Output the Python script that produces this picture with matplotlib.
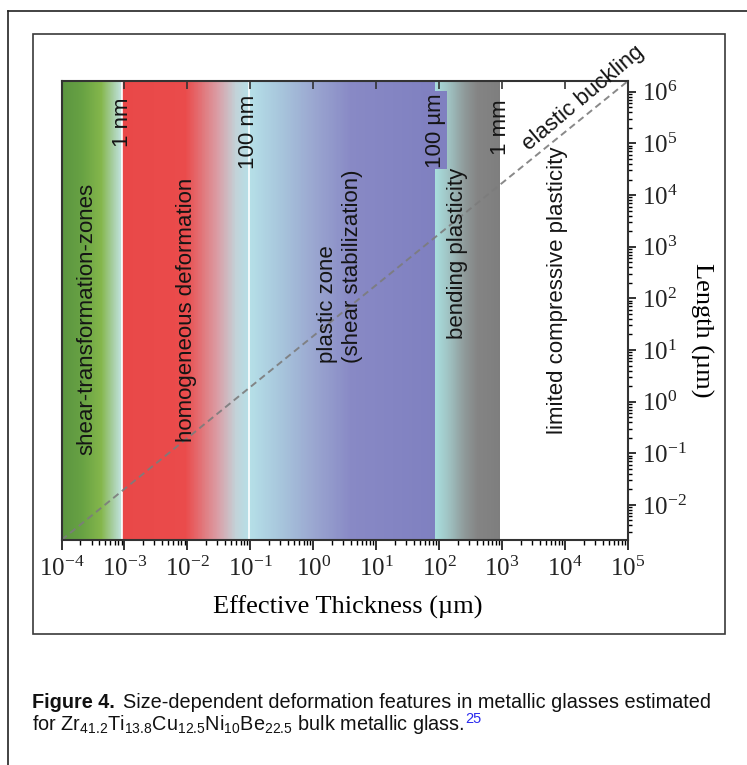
import numpy as np
import matplotlib
matplotlib.use('Agg')
import matplotlib.pyplot as plt
from matplotlib.colors import to_rgb
from matplotlib.lines import Line2D
from matplotlib.patches import Rectangle
from matplotlib.ticker import LogLocator, NullFormatter, NullLocator
import matplotlib.transforms as mtransforms

plt.rcParams['font.family'] = ['Liberation Serif', 'DejaVu Serif']
plt.rcParams['mathtext.fontset'] = 'custom'
plt.rcParams['mathtext.rm'] = 'Liberation Sans'
plt.rcParams['mathtext.it'] = 'Liberation Sans:italic'
plt.rcParams['mathtext.bf'] = 'Liberation Sans:bold'

# ---- data (micrometres) ----
x_exp = np.arange(-4, 6)          # tick decades, effective thickness
y_exp = np.arange(-2, 7)          # tick decades, length
x_lim = [1e-4, 1e5]
y_lim = [10**-2.68, 10**6.21]

# zone edges: start, 1 nm, 100 nm, 100 um, 1 mm
zone_edges = [1e-4, 0.93e-3, 0.95e-1, 0.86e2, 0.93e3]
zone_names = ['shear-transformation-zones', 'homogeneous deformation',
              'plastic zone\n(shear stabilization)', 'bending plasticity',
              'limited compressive plasticity']
boundary_labels = ['1 nm', '100 nm', '100 µm', '1 mm']

# elastic buckling line
buckle_t = [1e-4, 1e5]
buckle_L = [10**-2.68, 10**6.21]

# colour gradients inside each zone (fraction of zone in log space, colour)
zone_stops = [
    [(0.0, '#5a9440'), (0.35, '#68a243'), (0.65, '#84b64b'), (0.85, '#a8cfa6'), (1.0, '#c4e5e6')],
    [(0.0, '#e94848'), (0.5, '#ea4b4b'), (0.75, '#da9ca4'), (0.9, '#c2d3d9'), (1.0, '#b6dfe7')],
    [(0.0, '#b6e0e8'), (0.15, '#a9c9dd'), (0.35, '#9aa6d0'), (0.55, '#8889c5'), (1.0, '#7f80c0')],
    [(0.0, '#a8dede'), (0.2, '#a0c4c4'), (0.45, '#8f9a9a'), (0.65, '#848484'), (1.0, '#7e7e7e')],
]


def zone_rgb(xs, lo, hi, stops):
    f = (np.log10(xs) - np.log10(lo)) / (np.log10(hi) - np.log10(lo))
    fr = [s[0] for s in stops]
    cols = np.array([to_rgb(s[1]) for s in stops])
    return np.stack([np.interp(f, fr, cols[:, k]) for k in range(3)], axis=-1)


fig = plt.figure(figsize=(7.47, 7.65), dpi=100)
ax = fig.add_axes([61.5/747, 1-540/765, 566.5/747, 459/765])
ax.set_xscale('log')
ax.set_yscale('log')

for i, stops in enumerate(zone_stops):
    lo, hi = zone_edges[i], zone_edges[i+1]
    xe = np.logspace(np.log10(lo), np.log10(hi), 161)
    xc = np.sqrt(xe[:-1]*xe[1:])
    rgb = zone_rgb(xc, lo, hi, stops)
    ax.pcolormesh(xe, y_lim, rgb[np.newaxis, :, :], shading='flat',
                  antialiased=False, edgecolors='none', zorder=0)

for b in zone_edges[1:3]:
    ax.axvline(b, color='white', lw=1.2, zorder=1)

ax.plot(buckle_t, buckle_L, color='#7c7c7c', lw=1.4, dashes=(3.5, 2.2), alpha=0.9, zorder=2)

ax.set_xlim(x_lim)
ax.set_ylim(y_lim)

ax.set_xticks(10.0**x_exp)
ax.set_xticklabels([r'$\mathdefault{10^{%d}}$' % e for e in x_exp])
ax.xaxis.set_minor_locator(LogLocator(base=10, subs=np.arange(2, 10), numticks=40))
ax.xaxis.set_minor_formatter(NullFormatter())
ax.yaxis.tick_right()
ax.set_yticks(10.0**y_exp)
ax.set_yticklabels([r'$\mathdefault{10^{%d}}$' % e for e in y_exp])
ax.yaxis.set_minor_locator(LogLocator(base=10, subs=np.arange(2, 10), numticks=40))
ax.yaxis.set_minor_formatter(NullFormatter())

ax.tick_params(axis='x', which='major', direction='out', length=7, width=1.3,
               labelsize=18, pad=5, colors='#222', top=False)
ax.tick_params(axis='x', which='minor', direction='out', length=3.5, width=1, top=False)
ax.tick_params(axis='y', which='major', direction='out', length=6, width=1.3,
               labelsize=18, pad=4, colors='#222', left=False, right=True)
ax.tick_params(axis='y', which='minor', direction='out', length=3, width=1, left=False, right=True)
for s in ax.spines.values():
    s.set_color('#333')
    s.set_linewidth(1.5)

axt = ax.twiny()
axt.set_xscale('log')
axt.set_xlim(x_lim)
axt.set_xticks(10.0**x_exp)
axt.set_xticklabels([])
axt.xaxis.set_minor_locator(NullLocator())
axt.tick_params(axis='x', direction='in', length=6, width=1.2, colors='#333')
for s in axt.spines.values():
    s.set_visible(False)

ax.set_xlabel('Effective Thickness (µm)', fontsize=19, va='center')
ax.xaxis.set_label_coords(0.505, -0.146)
ax.yaxis.set_label_position('right')
ax.set_ylabel('Length (µm)', fontsize=19, rotation=270, va='center', ha='center')
ax.yaxis.set_label_coords(1.129, 0.4575)

# text inside the chart
sans = 'Liberation Sans'
blend = mtransforms.blended_transform_factory(ax.transData, ax.transAxes)
label_tops = [0.965, 0.969, 0.974, 0.959]
for b, lab, top in zip(zone_edges[1:], boundary_labels, label_tops):
    kw = {}
    if lab == '100 µm':
        kw['bbox'] = dict(boxstyle='square,pad=0.08', fc='#8080c0', ec='none')
    ax.text(b, top, lab, rotation=90, ha='center', va='top', transform=blend,
            family=sans, fontsize=16, color='#151515', zorder=3, **kw)

zone_xy = [(0.0445, 0.481, 'center'), (0.2198, 0.501, 'center'),
           (0.4916, 0.3856, 'bottom'), (0.6982, 0.6253, 'center'),
           (0.8747, 0.5447, 'center')]
for name, (fx, fy, va) in zip(zone_names, zone_xy):
    ax.text(fx, fy, name, rotation=90, ha='center', va=va, transform=ax.transAxes,
            family=sans, fontsize=16, color='#151515', multialignment='left',
            linespacing=1.2, zorder=3)

ax.text(0.9206, 0.963, 'elastic buckling', rotation=40, ha='center', va='center',
        transform=ax.transAxes, family=sans, fontsize=16, color='#151515',
        clip_on=False, zorder=3)

# frames
fig.add_artist(Rectangle((33/747, 1-634/765), 692/747, 600/765, transform=fig.transFigure,
                         fill=False, ec='#3a3a3a', lw=1.2))
fig.add_artist(Line2D([8.3/747, 8.3/747], [0, 1-10.7/765], transform=fig.transFigure,
                      color='#222', lw=1.2))
fig.add_artist(Line2D([8.3/747, 1], [1-10.7/765, 1-10.7/765], transform=fig.transFigure,
                      color='#222', lw=1.2))

# caption
r = fig.canvas.get_renderer()
W = fig.bbox.width
t1 = fig.text(32/747, 1-708/765, 'Figure 4.', weight='bold', family=sans,
              fontsize=14.3, va='baseline', color='#111')
bb = t1.get_window_extent(r)
fig.text((bb.x1+8)/W, 1-708/765,
         'Size-dependent deformation features in metallic glasses estimated',
         family=sans, fontsize=14.3, va='baseline', color='#111')
t3 = fig.text(32/747, 1-730/765,
              r'for Zr$_{41.2}$Ti$_{13.8}$Cu$_{12.5}$Ni$_{10}$Be$_{22.5}$ bulk metallic glass.',
              family=sans, fontsize=14.3, va='baseline', color='#111')
bb3 = t3.get_window_extent(r)
fig.text((bb3.x1+1)/W, 1-723/765, '25', family=sans, fontsize=10.5,
         va='baseline', color='#2a2aee')

fig.savefig('out.png', dpi=100)
